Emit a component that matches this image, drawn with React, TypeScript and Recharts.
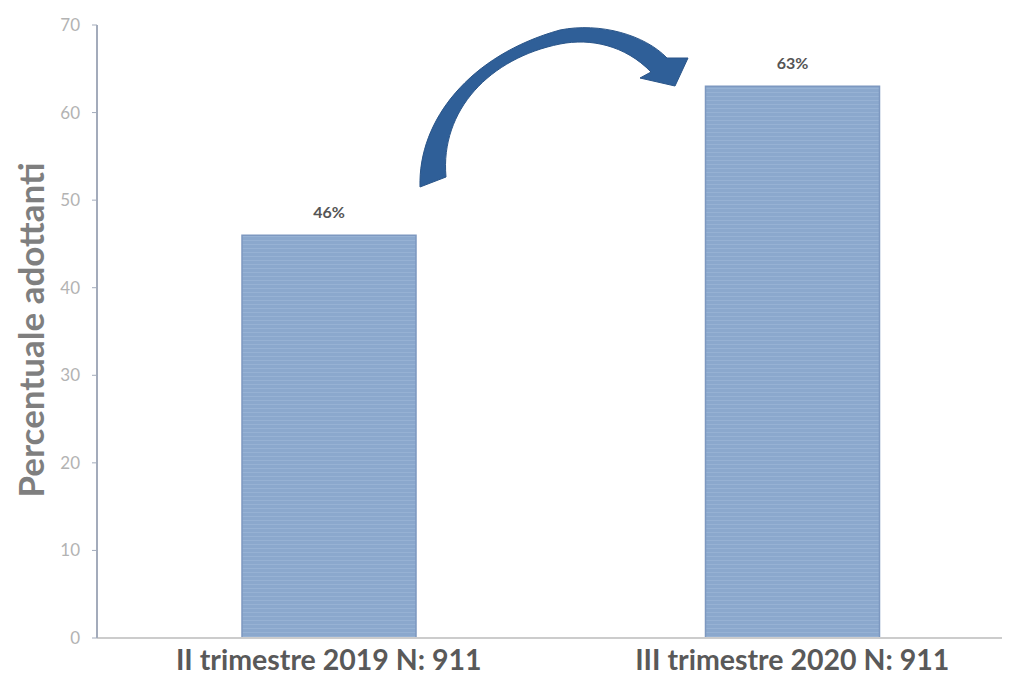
import React from 'react';
import { BarChart, Bar, XAxis, YAxis, LabelList, Customized } from 'recharts';

const categories = ['II trimestre 2019 N: 911', 'III trimestre 2020 N: 911'];
const values = [46, 63];
const valueLabels = ['46%', '63%'];
const yTicks = [0, 10, 20, 30, 40, 50, 60, 70];
const yAxisTitle = 'Percentuale adottanti';

const data = categories.map((c, i) => ({ name: c, value: values[i], label: valueLabels[i] }));

const FONT = 'Lato, "Open Sans", "DejaVu Sans", sans-serif';

const Arrow = () => (
  <g transform="translate(-8,-8)">
    <path
      d="M 420 187 C 418 120, 470 55, 560 30 C 600 22, 645 35, 667 58 L 688 58 L 675 86 L 640 78 L 651 72 C 625 45, 590 38, 560 44 C 490 58, 440 110, 446 177 Z"
      fill="#2f5f98"
      stroke="#2a5589"
      strokeWidth={1}
    />
  </g>
);

const YTitle = () => (
  <text
    x={22}
    y={322}
    transform="rotate(-90, 22, 322)"
    textAnchor="middle"
    dominantBaseline="central"
    fontFamily={FONT}
    fontSize={35}
    fontWeight={700}
    fill="#7f7f7f"
  >
    {yAxisTitle}
  </text>
);

export default function App() {
  return (
    <div style={{ width: 1002, height: 682, background: '#fff' }}>
      <BarChart width={1002} height={682} data={data} margin={{ top: 17, right: 0, left: 0, bottom: 0 }}>
        <defs>
          <pattern id="stripes" width="8" height="4" patternUnits="userSpaceOnUse">
            <rect width="8" height="4" fill="#8ba8cd" />
            <rect width="8" height="1" fill="#97b2d4" />
          </pattern>
        </defs>
        <XAxis
          dataKey="name"
          height={52}
          padding={{ left: 0, right: -14 }}
          axisLine={{ stroke: '#cccccc', strokeWidth: 2 }}
          tickLine={false}
          tickSize={6}
          tickMargin={6}
          tick={{ fontFamily: FONT, fontSize: 28.5, fontWeight: 700, fill: '#595959' }}
        />
        <YAxis
          width={89}
          domain={[0, 70]}
          ticks={yTicks}
          interval={0}
          tickSize={5}
          tickMargin={12}
          axisLine={{ stroke: '#a3abbb', strokeWidth: 2 }}
          tickLine={{ stroke: '#a3abbb' }}
          tick={{ fontFamily: FONT, fontSize: 17, fill: '#b3b3b3' }}
        />
        <Bar dataKey="value" barSize={174} fill="url(#stripes)" stroke="#7d98c0" strokeWidth={1.5} isAnimationActive={false}>
          <LabelList dataKey="label" position="top" offset={17} fill="#555555" fontFamily={FONT} fontSize={16} fontWeight={700} />
        </Bar>
        <Customized component={Arrow} />
        <Customized component={YTitle} />
      </BarChart>
    </div>
  );
}
